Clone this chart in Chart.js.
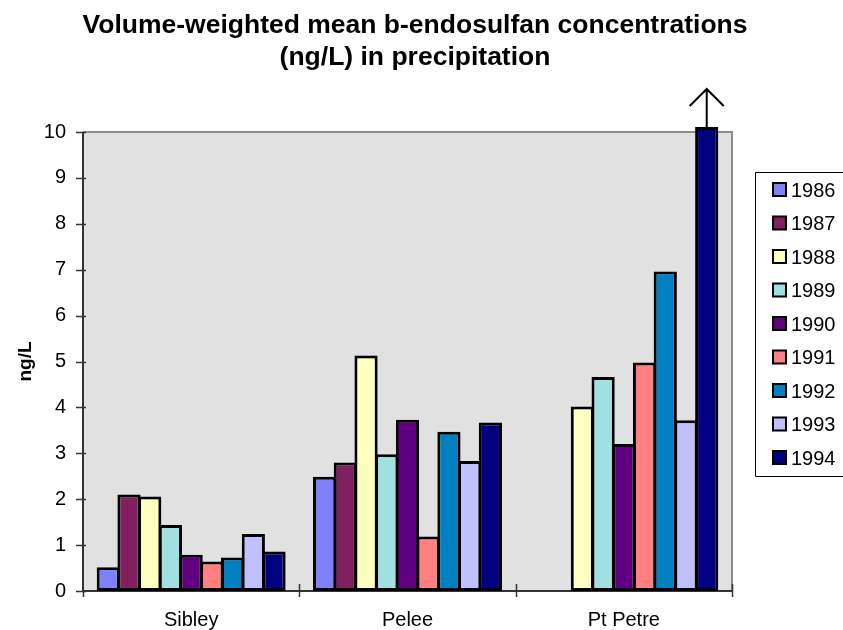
<!DOCTYPE html>
<html>
<head>
<meta charset="utf-8">
<script src="https://cdn.jsdelivr.net/npm/chart.js@4/dist/chart.umd.min.js"></script>
<style>
  html, body { margin: 0; padding: 0; background: #ffffff; }
  #wrap { width: 843px; height: 630px; }
</style>
</head>
<body>
<div id="wrap"><canvas id="chart" width="843" height="630"></canvas></div>
<script>
// Sampling sites (categories on the x axis)
const sites = ['Sibley', 'Pelee', 'Pt Petre'];

// Volume-weighted mean b-endosulfan, ng/L, one array per year (Sibley, Pelee, Pt Petre)
const y1986 = [0.52, 2.49, null];
const y1987 = [2.10, 2.80, null];
const y1988 = [2.06, 5.13, 4.02];
const y1989 = [1.44, 2.98, 4.66];
const y1990 = [0.79, 3.73, 3.20];
const y1991 = [0.64, 1.19, 4.98];
const y1992 = [0.73, 3.47, 6.96];
const y1993 = [1.24, 2.83, 3.72];
const y1994 = [0.86, 3.67, 10.11];   // Pt Petre runs off the top of the scale

const years = ['1986', '1987', '1988', '1989', '1990', '1991', '1992', '1993', '1994'];
const yearSeries = [y1986, y1987, y1988, y1989, y1990, y1991, y1992, y1993, y1994];
const yearColors = ['#8080ff', '#802060', '#ffffc0', '#a0e0e0', '#600080',
                    '#ff8080', '#0080c0', '#c0c0ff', '#000080'];

// Value axis
const yMin = 0;
const yMax = 10;
const yStep = 1;

const titleLines = ['Volume-weighted mean b-endosulfan concentrations', '(ng/L) in precipitation'];
const yAxisTitle = 'ng/L';

const FONT = '"Liberation Sans", Arial, Helvetica, sans-serif';

// Bars in a group share their outlines, so each one is drawn slightly wider than its slot
const datasets = years.map((yr, i) => ({
  label: yr,
  data: yearSeries[i],
  backgroundColor: yearColors[i],
  borderColor: '#000000',
  borderWidth: 3,
  borderSkipped: false,
  categoryPercentage: 0.862,
  barPercentage: 1.12,
  clip: false
}));

// Grey plot area with its frame and the tick marks that cross the axes
const plotFrame = {
  id: 'plotFrame',
  beforeDatasetsDraw(chart) {
    const { ctx, chartArea: a, scales } = chart;
    ctx.save();
    ctx.fillStyle = '#e1e1e1';
    ctx.fillRect(a.left, a.top, a.right - a.left, a.bottom - a.top);
    // top and right edges
    ctx.strokeStyle = '#8c8c8c';
    ctx.lineWidth = 2;
    ctx.beginPath();
    ctx.moveTo(a.left, a.top);
    ctx.lineTo(a.right, a.top);
    ctx.lineTo(a.right, a.bottom);
    ctx.stroke();
    // axes
    ctx.strokeStyle = '#333333';
    ctx.lineWidth = 2;
    ctx.beginPath();
    ctx.moveTo(a.left, a.top);
    ctx.lineTo(a.left, a.bottom);
    ctx.lineTo(a.right, a.bottom);
    ctx.stroke();
    // y tick marks
    ctx.lineWidth = 1.5;
    const ys = scales.y;
    ys.ticks.forEach(t => {
      const py = Math.round(ys.getPixelForValue(t.value)) + 0.5;
      ctx.beginPath();
      ctx.moveTo(a.left - 7, py);
      ctx.lineTo(a.left + 3, py);
      ctx.stroke();
    });
    // x tick marks on category boundaries
    const xs = scales.x;
    const n = xs.getLabels().length;
    const step = (xs.right - xs.left) / n;
    for (let i = 0; i <= n; i++) {
      const px = Math.round(xs.left + i * step) + 0.5;
      ctx.beginPath();
      ctx.moveTo(px, a.bottom - (i === 0 ? 0 : 7));
      ctx.lineTo(px, a.bottom + 6);
      ctx.stroke();
    }
    ctx.restore();
  }
};

// Arrow above the off-scale bar
const offScaleArrow = {
  id: 'offScaleArrow',
  afterDatasetsDraw(chart) {
    const { ctx } = chart;
    const ys = chart.scales.y;
    chart.data.datasets.forEach((ds, di) => {
      const meta = chart.getDatasetMeta(di);
      ds.data.forEach((v, j) => {
        if (v == null || v <= ys.max) return;
        const bar = meta.data[j];
        const x = bar.x;
        const top = bar.y;
        const tip = top - 38;
        ctx.save();
        ctx.strokeStyle = '#000000';
        ctx.lineWidth = 2;
        ctx.beginPath();
        ctx.moveTo(x, top);
        ctx.lineTo(x, tip);
        ctx.moveTo(x - 17, tip + 17);
        ctx.lineTo(x, tip);
        ctx.lineTo(x + 17, tip + 17);
        ctx.stroke();
        ctx.restore();
      });
    });
  }
};

// Two-line title and boxed legend
const titleAndLegend = {
  id: 'titleAndLegend',
  afterDraw(chart) {
    const { ctx } = chart;
    ctx.save();
    ctx.fillStyle = '#000000';
    ctx.font = 'bold 26.5px ' + FONT;
    ctx.textAlign = 'center';
    ctx.textBaseline = 'alphabetic';
    ctx.fillText(titleLines[0], 415, 33);
    ctx.fillText(titleLines[1], 415, 65);

    // legend frame (open on the right, running past the canvas edge)
    const lx = 755.5, ly = 172.5, lb = 476.5;
    ctx.strokeStyle = '#000000';
    ctx.lineWidth = 1;
    ctx.beginPath();
    ctx.moveTo(850, ly);
    ctx.lineTo(lx, ly);
    ctx.lineTo(lx, lb);
    ctx.lineTo(850, lb);
    ctx.stroke();

    ctx.font = '20px ' + FONT;
    ctx.textAlign = 'left';
    ctx.textBaseline = 'middle';
    chart.data.datasets.forEach((ds, i) => {
      const cy = 190 + i * 33.5;
      ctx.fillStyle = ds.backgroundColor;
      ctx.fillRect(773, cy - 7, 13, 13);
      ctx.strokeStyle = '#000000';
      ctx.lineWidth = 2;
      ctx.strokeRect(773, cy - 7, 13, 13);
      ctx.fillStyle = '#000000';
      ctx.fillText(ds.label, 791, cy + 1);
    });
    ctx.restore();
  }
};

new Chart(document.getElementById('chart'), {
  type: 'bar',
  data: { labels: sites, datasets },
  options: {
    responsive: false,
    animation: false,
    devicePixelRatio: 1,
    layout: { padding: { left: 0, top: 132, right: 111, bottom: 0 } },
    plugins: {
      legend: { display: false },
      title: { display: false },
      tooltip: { enabled: false }
    },
    scales: {
      x: {
        type: 'category',
        offset: true,
        grid: { display: false },
        border: { display: false },
        ticks: { color: '#000000', font: { family: FONT, size: 20 }, padding: 9 },
        afterFit(s) { s.height = 39; }
      },
      y: {
        min: yMin,
        max: yMax,
        grid: { display: false },
        border: { display: false },
        ticks: { stepSize: yStep, color: '#000000', font: { family: FONT, size: 20 }, padding: 9 },
        title: {
          display: true,
          text: yAxisTitle,
          color: '#000000',
          font: { family: FONT, size: 19, weight: 'bold' },
          padding: { top: 14, bottom: 0 }
        },
        afterFit(s) { s.width = 83; }
      }
    }
  },
  plugins: [plotFrame, offScaleArrow, titleAndLegend]
});
</script>
</body>
</html>
